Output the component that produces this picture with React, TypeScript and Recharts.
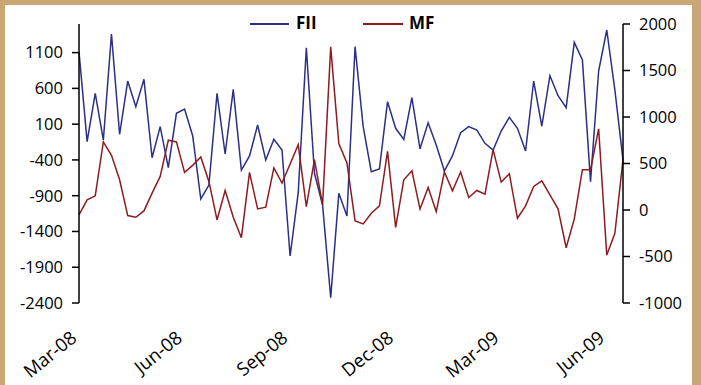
import React from 'react';
import { LineChart, Line, XAxis, YAxis, Legend } from 'recharts';

// Weekly observations, first week ending 14-Mar-2008
const START = Date.UTC(2008, 2, 14);
const fiiValues = [
  1110, -145, 531, -122, 1360, -42, 703, 344, 727, -369,
  65, -508, 251, 312, -61, -946, -751, 531, -317, 587,
  -541, -345, 88, -401, -112, -261, -1743, -858, 1169, -587,
  -1030, -2326, -867, -1184, 1183, 65, -564, -527, 414, 42,
  -112, 470, -245, 120, -192, -555, -341, -19, 65, 18,
  -168, -261, 4, 195, 42, -275, 703, 74, 777, 498,
  330, 1244, 997, -704, 843, 1416, 577, -401,
];
const mfValues = [
  -53, 109, 152, 732, 588, 325, -60, -78, -10, 181,
  361, 750, 732, 404, 480, 570, 307, -107, 210, -78,
  -298, 404, 12, 30, 452, 290, 495, 703, 37, 541,
  55, 1754, 714, 505, -118, -150, -35, 44, 631, -186,
  325, 422, 10, 242, -17, 408, 206, 408, 134, 210,
  171, 649, 300, 390, -89, 44, 253, 314, 163, 12,
  -406, -96, 433, 433, 873, -485, -250, 541,
];
const weeks = fiiValues.map((_, i) => START + i * 7 * 86400000);
const monthNames = ['Jan', 'Feb', 'Mar', 'Apr', 'May', 'Jun', 'Jul', 'Aug', 'Sep', 'Oct', 'Nov', 'Dec'];
const leftTicks = [-2400, -1900, -1400, -900, -400, 100, 600, 1100];
const rightTicks = [-1000, -500, 0, 500, 1000, 1500, 2000];

const data = weeks.map((w, i) => ({ week: w, FII: fiiValues[i], MF: mfValues[i] }));

const FONT = '"Open Sans", Lato, sans-serif';
const FII_COLOR = '#2B2F86';
const MF_COLOR = '#8C1C1F';
const FRAME = '#C9A673';

const fmtMonth = (t: number) => {
  const d = new Date(t);
  return `${monthNames[d.getUTCMonth()]}-${String(d.getUTCFullYear()).slice(2)}`;
};

const XTick = (props: any) => {
  const { x, y, payload } = props;
  const ax = x - 1;
  const ay = y + 37;
  return (
    <text
      x={ax}
      y={ay}
      textAnchor="end"
      fontSize={18.5}
      fontFamily={FONT}
      fill="#000"
      transform={`rotate(-39, ${ax}, ${ay})`}
    >
      {fmtMonth(payload.value)}
    </text>
  );
};

const LegendContent = () => (
  <div style={{ position: 'relative', width: 701, height: 40, fontFamily: FONT }}>
    <div style={{ position: 'absolute', left: 250, top: 23, width: 39, height: 2, background: FII_COLOR }} />
    <div style={{ position: 'absolute', left: 296, top: 13, fontSize: 17, fontWeight: 700, color: '#000', lineHeight: '20px' }}>FII</div>
    <div style={{ position: 'absolute', left: 363, top: 23, width: 40, height: 2, background: MF_COLOR }} />
    <div style={{ position: 'absolute', left: 409, top: 13, fontSize: 17, fontWeight: 700, color: '#000', lineHeight: '20px' }}>MF</div>
  </div>
);

export default function App() {
  return (
    <div style={{ position: 'absolute', left: 0, top: 0, width: 701, height: 385, background: '#fff' }}>
      <div style={{ position: 'absolute', left: 0, top: 0 }}>
        <LineChart width={701} height={385} data={data} margin={{ top: 24, right: 8, bottom: 22, left: 9 }}>
          <XAxis
            dataKey="week"
            interval={12}
            axisLine={false}
            tickLine={false}
            tickSize={0}
            tickMargin={0}
            height={60}
            tick={<XTick />}
          />
          <YAxis
            yAxisId="left"
            orientation="left"
            domain={[-2400, 1500]}
            ticks={leftTicks}
            width={70}
            tickSize={7}
            tickMargin={9}
            axisLine={{ stroke: '#000', strokeWidth: 1.5 }}
            tickLine={{ stroke: '#000', strokeWidth: 1.5 }}
            tick={{ fill: '#000', fontSize: 16.5, fontFamily: FONT }}
            allowDataOverflow
          />
          <YAxis
            yAxisId="right"
            orientation="right"
            domain={[-1000, 2000]}
            ticks={rightTicks}
            width={70}
            tickSize={7}
            tickMargin={9}
            axisLine={{ stroke: '#000', strokeWidth: 1.5 }}
            tickLine={{ stroke: '#000', strokeWidth: 1.5 }}
            tick={{ fill: '#000', fontSize: 16.5, fontFamily: FONT }}
            allowDataOverflow
          />
          <Legend
            layout="horizontal"
            verticalAlign="middle"
            align="center"
            content={<LegendContent />}
            wrapperStyle={{ left: 0, top: 0, width: 701, height: 40 }}
          />
          <Line yAxisId="left" type="linear" dataKey="FII" stroke={FII_COLOR} strokeWidth={1.5} dot={false} isAnimationActive={false} />
          <Line yAxisId="right" type="linear" dataKey="MF" stroke={MF_COLOR} strokeWidth={1.5} dot={false} isAnimationActive={false} />
        </LineChart>
      </div>
      <div
        style={{
          position: 'absolute',
          left: 0,
          top: 0,
          width: 701,
          height: 385,
          boxSizing: 'border-box',
          borderTop: `5px solid ${FRAME}`,
          borderLeft: `5px solid ${FRAME}`,
          borderRight: `9px solid ${FRAME}`,
          pointerEvents: 'none',
        }}
      />
    </div>
  );
}
